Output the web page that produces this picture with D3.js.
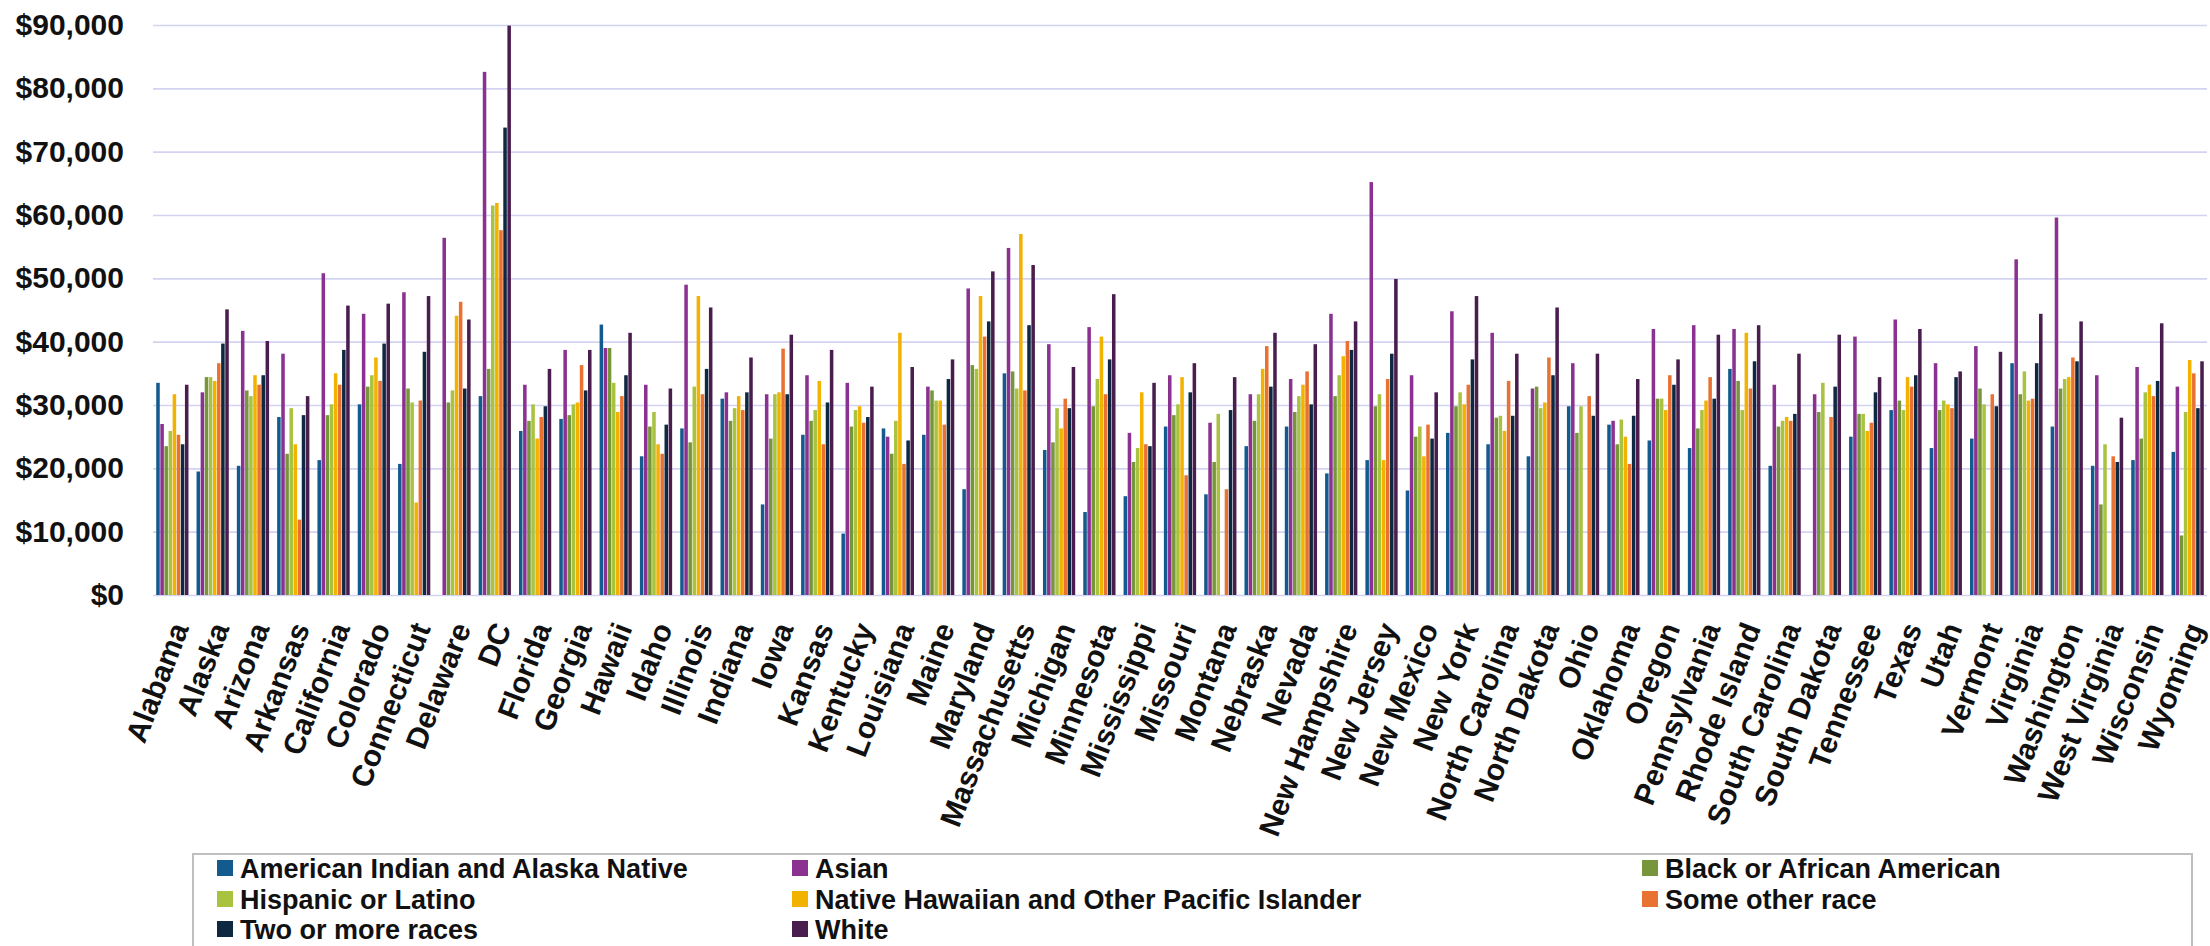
<!DOCTYPE html>
<html>
<head>
<meta charset="utf-8">
<script src="https://cdn.jsdelivr.net/npm/d3@7/dist/d3.min.js"></script>
<style>
  html, body { margin: 0; padding: 0; background: #ffffff; overflow: hidden; }
  svg { display: block; }
  .ytick text { font-family: "Liberation Sans", Arial, sans-serif; font-weight: bold; font-size: 30px; fill: #111; }
  .xtick text { font-family: "Liberation Sans", Arial, sans-serif; font-weight: bold; font-size: 30px; fill: #111; }
  .legend text { font-family: "Liberation Sans", Arial, sans-serif; font-weight: bold; font-size: 27px; fill: #111; }
</style>
</head>
<body>
<svg id="chart" width="2210" height="946"></svg>
<script>
// Median earnings by race, per state
const states = ["Alabama","Alaska","Arizona","Arkansas","California","Colorado","Connecticut","Delaware","DC","Florida","Georgia","Hawaii","Idaho","Illinois","Indiana","Iowa","Kansas","Kentucky","Louisiana","Maine","Maryland","Massachusetts","Michigan","Minnesota","Mississippi","Missouri","Montana","Nebraska","Nevada","New Hampshire","New Jersey","New Mexico","New York","North Carolina","North Dakota","Ohio","Oklahoma","Oregon","Pennsylvania","Rhode Island","South Carolina","South Dakota","Tennessee","Texas","Utah","Vermont","Virginia","Washington","West Virginia","Wisconsin","Wyoming"];

const seriesNames = ["American Indian and Alaska Native","Asian","Black or African American","Hispanic or Latino","Native Hawaiian and Other Pacific Islander","Some other race","Two or more races","White"];

const americanIndianAlaskaNative = [33500,19500,20400,28100,21300,30100,20700,null,31400,25900,27800,42700,21900,26300,31000,14300,25300,9700,26300,25300,16700,35000,22900,13100,15600,26600,15900,23500,26600,19200,21300,16500,25600,23800,21900,29800,26900,24400,23200,35700,20400,null,25000,29200,23200,24700,36600,26600,20400,21300,22600];
const asian = [27000,32000,41700,38100,50800,44400,47800,56400,82600,33200,38700,39000,33200,49000,32000,31700,34700,33500,25000,32900,48400,54800,39600,42300,25600,34700,27200,31700,34100,44400,65200,34700,44800,41400,32600,36600,27500,42000,42600,42000,33200,31700,40800,43500,36600,39300,53000,59600,34700,36000,32900];
const blackAfricanAmerican = [23500,34400,32300,22300,28400,32900,32600,30400,35700,27500,28400,39000,26600,24100,27500,24700,27500,26600,22300,32300,36300,35300,24100,29800,21000,28400,21000,27500,28900,31400,29800,25000,29800,28000,32900,25600,23800,31000,26300,33800,26600,28900,28600,30700,29200,32600,31700,32600,14300,24700,9400];
const hispanicLatino = [25900,34400,31400,29500,30100,34700,30400,32300,61500,30100,30100,33500,28900,32900,29500,31700,29200,29200,27500,30700,35700,32600,29500,34100,23200,30100,28600,31700,31400,34700,31700,26600,32000,28300,29500,29800,27700,31000,29200,29200,27500,33500,28600,29200,30700,30100,35300,34100,23800,32000,28900];
const nativeHawaiianPacificIslander = [31700,33800,34700,23800,35000,37500,14600,44100,61900,24700,30400,28900,23800,47200,31400,32000,33800,29800,41400,30700,47200,57000,26300,40800,32000,34400,null,35700,33200,37700,21300,21900,30100,25900,30400,null,25000,29200,30700,41400,28100,null,25900,34400,30100,null,30700,34400,null,33200,37100];
const someOtherRace = [25300,36600,33200,11900,33200,33800,30700,46300,57600,28100,36300,31400,22300,31700,29200,38900,23800,27200,20700,26900,40800,32300,31000,31700,23800,18900,16700,39300,35300,40100,34100,26900,33200,33800,37500,31400,20700,34700,34400,32600,27500,28100,27200,32900,29500,31700,31000,37500,21900,31400,35000];
const twoOrMoreRaces = [23800,39700,34700,28400,38700,39700,38400,32600,73800,29800,32300,34700,26900,35700,32000,31700,30400,28100,24400,34100,43200,42600,29500,37200,23500,32000,29200,32900,30100,38700,38100,24700,37200,28300,34700,28300,28300,33200,31000,36900,28600,32900,32000,34700,34400,29800,36600,36900,21000,33800,29500];
const white = [33200,45100,40100,31400,45700,46000,47200,43500,89900,35700,38700,41400,32600,45400,37500,41100,38700,32900,36000,37200,51100,52100,36000,47500,33500,36600,34400,41400,39600,43200,49900,32000,47200,38100,45400,38100,34100,37200,41100,42600,38100,41100,34400,42000,35300,38400,44400,43200,28000,42900,36900];

const yTicks = [0,10000,20000,30000,40000,50000,60000,70000,80000,90000];

const seriesValues = [americanIndianAlaskaNative, asian, blackAfricanAmerican, hispanicLatino,
  nativeHawaiianPacificIslander, someOtherRace, twoOrMoreRaces, white];
const seriesColors = ["#135a8e","#8b3192","#77963b","#a9c23f","#f2b200","#e97132","#0e2841","#4a1d4f"];

const svg = d3.select("#chart");
const W = 2210, H = 946;
const plot = { left: 153, right: 2207, top: 25, bottom: 595 };

const x = d3.scaleBand().domain(states).range([plot.left, plot.right])
  .paddingInner(0.2).paddingOuter(0.08);
const xs = d3.scaleBand().domain(seriesNames).range([0, x.bandwidth()]).paddingInner(0.14);
const y = d3.scaleLinear().domain([0, 90000]).range([plot.bottom, plot.top]);
const color = d3.scaleOrdinal().domain(seriesNames).range(seriesColors);

svg.append("rect").attr("width", W).attr("height", H).attr("fill", "#ffffff");

// horizontal gridlines
const grid = svg.append("g")
  .attr("transform", `translate(${plot.left},0)`)
  .call(d3.axisLeft(y).tickValues(yTicks).tickSize(-(plot.right - plot.left)).tickFormat(""));
grid.select(".domain").remove();
grid.selectAll("line").attr("stroke", "#d3d3f1").attr("stroke-width", 1.6);

// y axis labels
const yAxis = svg.append("g").attr("class", "ytick")
  .attr("transform", `translate(${plot.left},0)`)
  .call(d3.axisLeft(y).tickValues(yTicks).tickSize(0).tickPadding(29)
    .tickFormat(d => "$" + d3.format(",")(d)));
yAxis.select(".domain").remove();

// bars
const rows = states.map((s, i) => ({ state: s, values: seriesNames.map((n, j) => ({ name: n, value: seriesValues[j][i] })) }));
const groups = svg.append("g").selectAll("g").data(rows).join("g")
  .attr("transform", d => `translate(${x(d.state)},0)`);
groups.selectAll("rect")
  .data(d => d.values.filter(v => v.value != null))
  .join("rect")
  .attr("x", v => xs(v.name))
  .attr("width", xs.bandwidth())
  .attr("y", v => y(v.value))
  .attr("height", v => y(0) - y(v.value))
  .attr("fill", v => color(v.name));

// category labels
const xAxis = svg.append("g").attr("class", "xtick")
  .attr("transform", `translate(0,${plot.bottom})`)
  .call(d3.axisBottom(x).tickSize(0).tickPadding(0));
xAxis.select(".domain").remove();
xAxis.selectAll("text")
  .attr("text-anchor", "end")
  .attr("dy", null)
  .attr("y", 0)
  .attr("transform", "translate(17,33) rotate(-69)");

// legend (box runs off the bottom edge, so only three sides are drawn)
const legend = svg.append("g").attr("class", "legend");
const lb = { left: 193, top: 854, right: 2192, bottom: H };
legend.append("rect")
  .attr("x", lb.left).attr("y", lb.top).attr("width", lb.right - lb.left).attr("height", lb.bottom - lb.top)
  .attr("fill", "#ffffff");
legend.append("path")
  .attr("d", `M${lb.left},${lb.bottom}V${lb.top}H${lb.right}V${lb.bottom}`)
  .attr("fill", "none").attr("stroke", "#bfbfbf").attr("stroke-width", 2);
const colX = [217, 792, 1642];
const rowY = [868, 899, 929];
const items = legend.selectAll("g.item").data(seriesNames).join("g")
  .attr("class", "item")
  .attr("transform", (d, i) => `translate(${colX[i % 3]},${rowY[Math.floor(i / 3)]})`);
items.append("rect").attr("x", 0).attr("y", -8).attr("width", 16).attr("height", 16)
  .attr("fill", d => color(d));
items.append("text").attr("x", 23).attr("y", 0).attr("dy", "0.36em").text(d => d);
</script>
</body>
</html>
